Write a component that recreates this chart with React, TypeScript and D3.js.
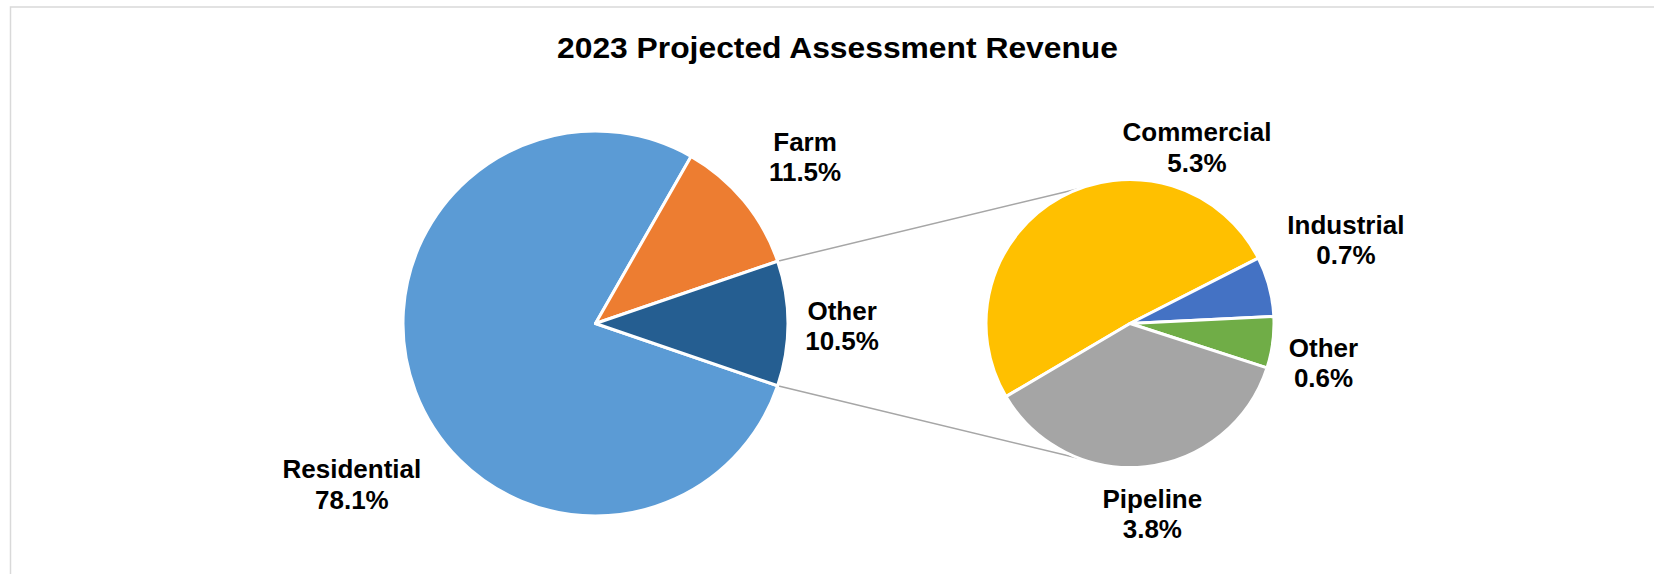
import React from 'react';
import * as d3 from 'd3';

// ---- data ----
const chartTitle = '2023 Projected Assessment Revenue';
const mainCategories = ['Residential', 'Farm', 'Other'];
const mainValues = [78.1, 11.5, 10.5];
const subCategories = ['Commercial', 'Industrial', 'Other', 'Pipeline'];
const subValues = [5.3, 0.7, 0.6, 3.8];

// ---- styles / layout ----
const mainColors = ['#5B9BD5', '#ED7D31', '#255E91'];
const subColors = ['#FFC000', '#4472C4', '#70AD47', '#A5A5A5'];
// label placement: polar angle (deg, clockwise from 12 o'clock) and radius factor
const mainLabelLayout = [
  { angle: 236.6, k: 1.516 },
  { angle: 51.5, k: 1.391 },
  { angle: 90.5, k: 1.281 },
];
const subLabelLayout = [
  { angle: 20.8, k: 1.31 },
  { angle: 68.8, k: 1.608 },
  { angle: 101.4, k: 1.371 },
  { angle: 173.3, k: 1.331 },
];

const W = 1654;
const H = 574;
const FONT = "'Liberation Sans', Arial, Helvetica, sans-serif";
const rad = (d: number) => (d * Math.PI) / 180;

export default function App() {
  const main = { cx: 595.5, cy: 323.5, r: 192.5 };
  const sub = { cx: 1130, cy: 323.5, r: 144 };

  const mainTotal = d3.sum(mainValues);
  const otherDeg = (mainValues[2] / mainTotal) * 360;
  const mainStart = rad(90 + otherDeg / 2 - 360);
  const mainPie = d3
    .pie<number>()
    .sort(null)
    .value((d) => d)
    .startAngle(mainStart)
    .endAngle(mainStart + 2 * Math.PI);
  const mainArcs = mainPie(mainValues);

  const subStart = rad(-120.5);
  const subPie = d3
    .pie<number>()
    .sort(null)
    .value((d) => d)
    .startAngle(subStart)
    .endAngle(subStart + 2 * Math.PI);
  const subArcs = subPie(subValues);

  const mainArc = d3.arc<d3.PieArcDatum<number>>().innerRadius(0).outerRadius(main.r);
  const subArc = d3.arc<d3.PieArcDatum<number>>().innerRadius(0).outerRadius(sub.r);

  const polar = (c: { cx: number; cy: number }, a: number, r: number) => [
    c.cx + r * Math.sin(a),
    c.cy - r * Math.cos(a),
  ];

  const otherArc = mainArcs[2];
  const connectorAngle = rad(20);
  const p1 = polar(main, otherArc.startAngle, main.r);
  const p2 = polar(main, otherArc.endAngle, main.r);
  const q1 = polar(sub, -connectorAngle, sub.r);
  const q2 = polar(sub, Math.PI + connectorAngle, sub.r);

  const fmt = (v: number) => `${v.toFixed(1)}%`;

  const label = (
    c: { cx: number; cy: number; r: number },
    lay: { angle: number; k: number },
    name: string,
    v: number,
    key: string
  ) => {
    const [x, y] = polar(c, rad(lay.angle), c.r * lay.k);
    return (
      <text
        key={key}
        x={x}
        textAnchor="middle"
        fontFamily={FONT}
        fontWeight="bold"
        fontSize={26}
        fill="#000"
      >
        <tspan x={x} y={y - 6}>{name}</tspan>
        <tspan x={x} y={y + 24.5}>{fmt(v)}</tspan>
      </text>
    );
  };

  return (
    <svg
      width={W}
      height={H}
      style={{ position: 'fixed', left: 0, top: 0, background: '#fff' }}
    >
      <rect x={0} y={0} width={W} height={H} fill="#fff" />
      <rect x={10.5} y={7} width={W + 50} height={H + 50} fill="none" stroke="#d9d9d9" strokeWidth={1.5} />
      <text
        x={837.5}
        y={57.5}
        textAnchor="middle"
        fontFamily={FONT}
        fontWeight="bold"
        fontSize={30}
        textLength={561}
        lengthAdjust="spacingAndGlyphs"
        fill="#000"
      >
        {chartTitle}
      </text>

      <line x1={p1[0]} y1={p1[1]} x2={q1[0]} y2={q1[1]} stroke="#a6a6a6" strokeWidth={1.5} />
      <line x1={p2[0]} y1={p2[1]} x2={q2[0]} y2={q2[1]} stroke="#a6a6a6" strokeWidth={1.5} />

      <g transform={`translate(${main.cx},${main.cy})`}>
        {mainArcs.map((a, i) => (
          <path key={i} d={mainArc(a) || ''} fill={mainColors[i]} stroke="#fff" strokeWidth={3} strokeLinejoin="round" />
        ))}
      </g>
      <g transform={`translate(${sub.cx},${sub.cy})`}>
        {subArcs.map((a, i) => (
          <path key={i} d={subArc(a) || ''} fill={subColors[i]} stroke="#fff" strokeWidth={3} strokeLinejoin="round" />
        ))}
      </g>

      {mainCategories.map((n, i) => label(main, mainLabelLayout[i], n, mainValues[i], 'm' + i))}
      {subCategories.map((n, i) => label(sub, subLabelLayout[i], n, subValues[i], 's' + i))}
    </svg>
  );
}
